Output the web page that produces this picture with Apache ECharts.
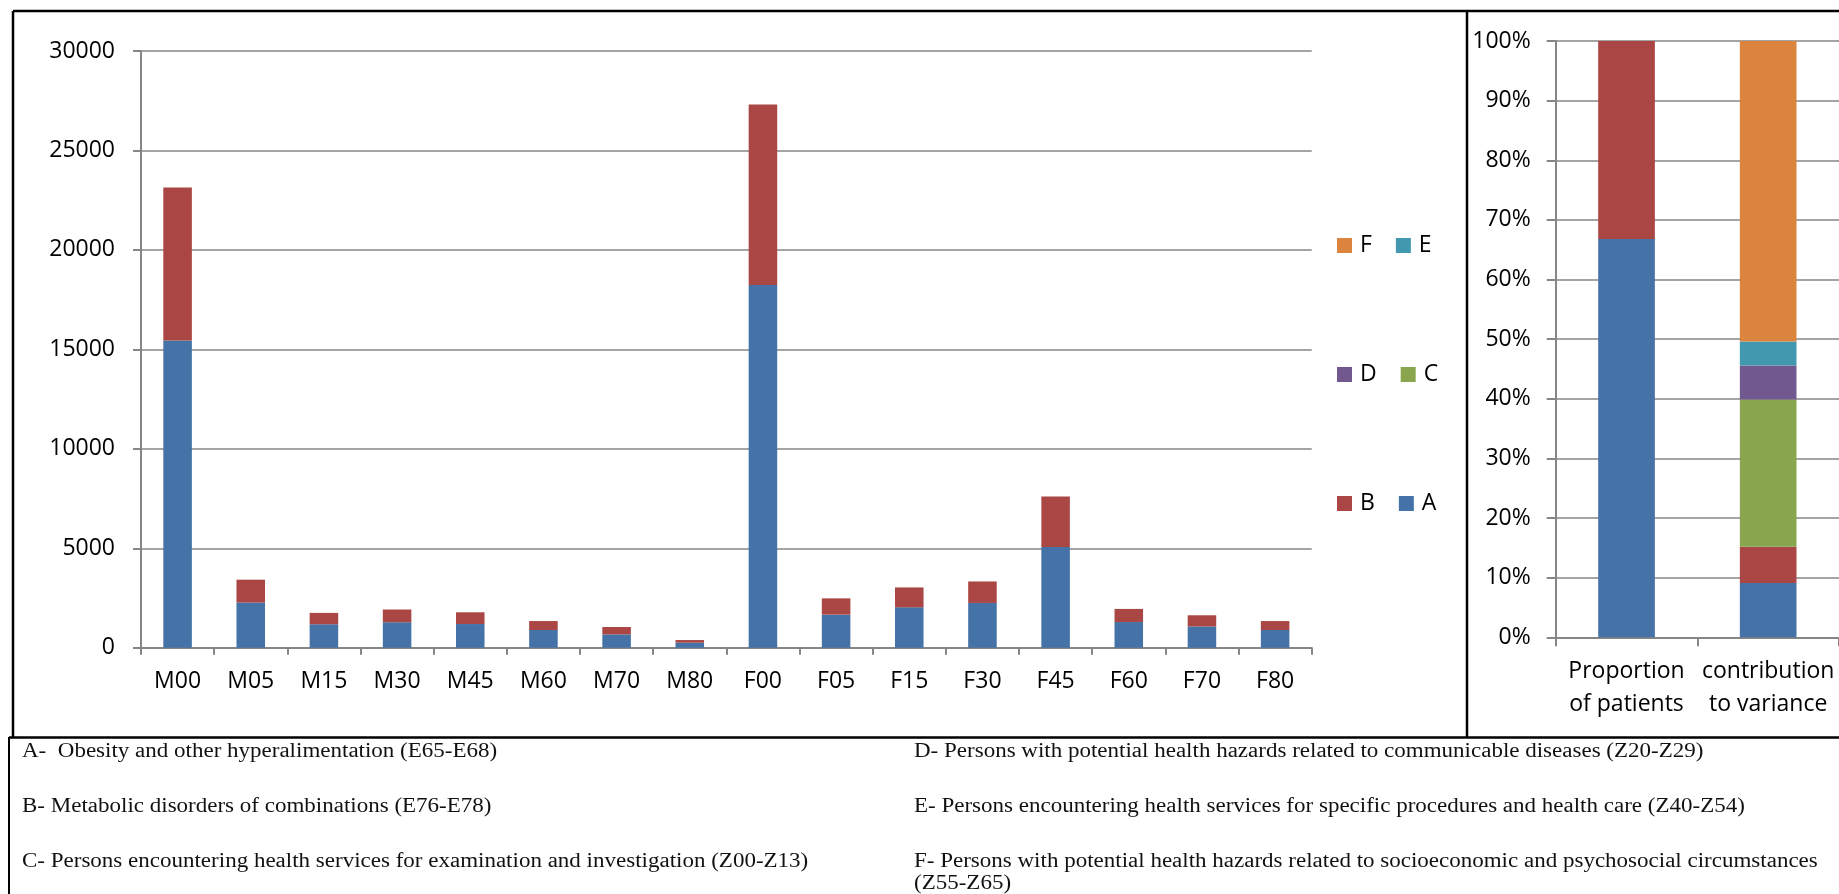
<!DOCTYPE html>
<html>
<head>
<meta charset="utf-8">
<script src="https://cdn.jsdelivr.net/npm/echarts@6/dist/echarts.min.js"></script>
<style>
  html, body { margin: 0; padding: 0; background: #ffffff; }
  #chart { width: 1839px; height: 894px; }
</style>
</head>
<body>
<div id="chart"></div>
<script>
// ---- data ----
const categories = ['M00','M05','M15','M30','M45','M60','M70','M80','F00','F05','F15','F30','F45','F60','F70','F80'];
const seriesA = [15440, 2270, 1180, 1280, 1190, 890, 670, 250, 18230, 1660, 2030, 2250, 5060, 1290, 1070, 890];
const seriesB = [7700, 1150, 570, 640, 590, 450, 370, 135, 9080, 820, 1000, 1080, 2540, 660, 560, 450];
const yTicks = [0, 5000, 10000, 15000, 20000, 25000, 30000];

const groups = ['A', 'B', 'C', 'D', 'E', 'F'];
const shareCategories = ['Proportion\nof patients', 'contribution\nto variance'];
const patientShare = [66.8, 33.2, null, null, null, null];
const varianceShare = [9.1, 6.1, 24.7, 5.7, 4.0, 50.4];

const footLeft = [
  'A-  Obesity and other hyperalimentation (E65-E68)',
  'B- Metabolic disorders of combinations (E76-E78)',
  'C- Persons encountering health services for examination and investigation (Z00-Z13)'
];
const footRight = [
  'D- Persons with potential health hazards related to communicable diseases (Z20-Z29)',
  'E- Persons encountering health services for specific procedures and health care (Z40-Z54)',
  'F- Persons with potential health hazards related to socioeconomic and psychosocial circumstances',
  '(Z55-Z65)'
];

// ---- style ----
const colors = { A: '#4572A7', B: '#AA4643', C: '#89A54E', D: '#71588F', E: '#4198AF', F: '#DB843D' };
const FONT = 'Open Sans';
const GRAY = '#868686';

const chart = echarts.init(document.getElementById('chart'), null, { renderer: 'canvas' });

const leftSeries = [
  { name: 'A', type: 'bar', stack: 'n', xAxisIndex: 0, yAxisIndex: 0, data: seriesA, barWidth: '39%',
    itemStyle: { color: colors.A }, emphasis: { disabled: true } },
  { name: 'B', type: 'bar', stack: 'n', xAxisIndex: 0, yAxisIndex: 0, data: seriesB, barWidth: '39%',
    itemStyle: { color: colors.B }, emphasis: { disabled: true } }
];
const rightSeries = groups.map((g, i) => ({
  name: g, type: 'bar', stack: 'p', xAxisIndex: 1, yAxisIndex: 1,
  data: [patientShare[i], varianceShare[i]], barWidth: '40%',
  itemStyle: { color: colors[g] }, emphasis: { disabled: true }
}));

function legendRow(items, top) {
  return {
    data: items, left: 1332, top: top, orient: 'horizontal', itemWidth: 15, itemHeight: 15,
    itemGap: 24, icon: 'rect', selectedMode: false,
    textStyle: { fontFamily: FONT, fontSize: 23, color: '#000', width: 20, padding: [0, 0, 0, 3] }
  };
}

const lineStyleBorder = { stroke: '#000', lineWidth: 2.5 };
const graphics = [
  { type: 'line', z: 100, shape: { x1: 13, y1: 11, x2: 1839, y2: 11 }, style: lineStyleBorder },
  { type: 'line', z: 100, shape: { x1: 13, y1: 11, x2: 13, y2: 737 }, style: lineStyleBorder },
  { type: 'line', z: 100, shape: { x1: 1467, y1: 11, x2: 1467, y2: 737 }, style: lineStyleBorder },
  { type: 'line', z: 100, shape: { x1: 9, y1: 737.5, x2: 1839, y2: 737.5 }, style: lineStyleBorder },
  { type: 'line', z: 100, shape: { x1: 9, y1: 737, x2: 9, y2: 894 }, style: { stroke: '#000', lineWidth: 2 } }
];
const footY = [752, 807, 862, 884];
footLeft.forEach((t, i) => graphics.push({
  type: 'text', x: 22, y: footY[i], scaleX: 1.15,
  style: { text: t, fontFamily: 'Liberation Serif', fontSize: 20, fill: '#111', verticalAlign: 'middle' }
}));
footRight.forEach((t, i) => graphics.push({
  type: 'text', x: 914, y: footY[i], scaleX: 1.15,
  style: { text: t, fontFamily: 'Liberation Serif', fontSize: 20, fill: '#111', verticalAlign: 'middle' }
}));

const option = {
  backgroundColor: '#ffffff',
  animation: false,
  textStyle: { fontFamily: FONT },
  grid: [
    { left: 141, top: 51, width: 1170.7, height: 596.7, containLabel: false },
    { left: 1555.7, top: 41, width: 288, height: 596.3, containLabel: false }
  ],
  legend: [
    legendRow(['F', 'E'], 229),
    legendRow(['D', 'C'], 358),
    legendRow(['B', 'A'], 487)
  ],
  xAxis: [
    { type: 'category', gridIndex: 0, data: categories, boundaryGap: true,
      axisLine: { show: true, lineStyle: { color: GRAY, width: 2 } },
      axisTick: { show: true, length: 7, lineStyle: { color: GRAY, width: 2 } },
      axisLabel: { fontFamily: FONT, fontSize: 23, color: '#000', margin: 22, lineHeight: 23, interval: 0 } },
    { type: 'category', gridIndex: 1, data: shareCategories, boundaryGap: true,
      axisLine: { show: true, lineStyle: { color: GRAY, width: 2 } },
      axisTick: { show: true, length: 9, lineStyle: { color: GRAY, width: 2 } },
      axisLabel: { fontFamily: FONT, fontSize: 23, color: '#000', margin: 18, lineHeight: 33, interval: 0 } }
  ],
  yAxis: [
    { type: 'value', gridIndex: 0, min: yTicks[0], max: yTicks[yTicks.length - 1], interval: 5000,
      axisLine: { show: true, lineStyle: { color: GRAY, width: 2 } },
      axisTick: { show: true, length: 8, lineStyle: { color: GRAY, width: 2 } },
      splitLine: { show: true, lineStyle: { color: GRAY, width: 1.6 } },
      axisLabel: { fontFamily: FONT, fontSize: 23, color: '#000', margin: 26, formatter: v => String(v) } },
    { type: 'value', gridIndex: 1, min: 0, max: 100, interval: 10,
      axisLine: { show: true, lineStyle: { color: GRAY, width: 2 } },
      axisTick: { show: true, length: 9, lineStyle: { color: GRAY, width: 2 } },
      splitLine: { show: true, lineStyle: { color: GRAY, width: 1.6 } },
      axisLabel: { fontFamily: FONT, fontSize: 23, color: '#000', margin: 25, formatter: '{value}%' } }
  ],
  series: leftSeries.concat(rightSeries),
  graphic: graphics
};
chart.setOption(option);
</script>
</body>
</html>
